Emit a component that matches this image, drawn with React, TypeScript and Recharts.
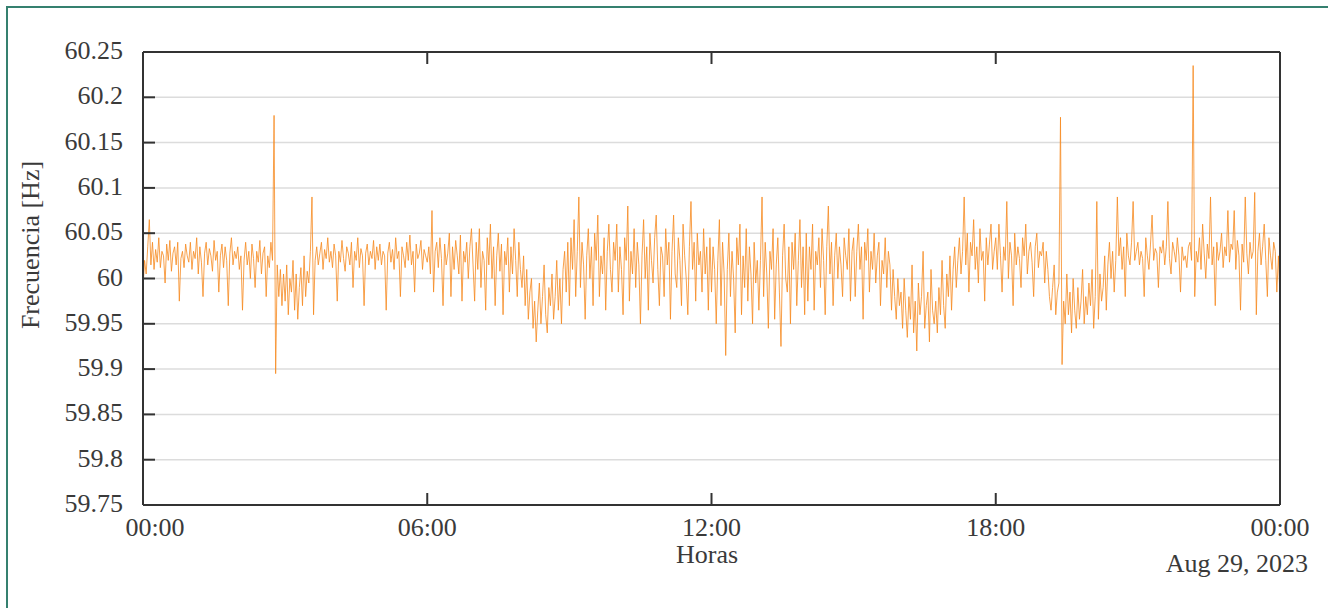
import { LineChart, Line, XAxis, YAxis, CartesianGrid } from 'recharts'

// horizontal axis: minutes since midnight, one sample every 2 min
const STEP_MIN = 2
const HOUR_TICKS = [0, 360, 720, 1080, 1440]
const HOUR_LABELS = ['00:00', '06:00', '12:00', '18:00', '00:00']
const FREQ_TICKS = [59.75, 59.8, 59.85, 59.9, 59.95, 60, 60.05, 60.1, 60.15, 60.2, 60.25]
const FREQ_LABELS = ['59.75', '59.8', '59.85', '59.9', '59.95', '60', '60.05', '60.1', '60.15', '60.2', '60.25']

// deviation from 60 Hz in mHz, one row per hour
const DEV_MHZ = [
  -10, 20, 5, 35, 65, 15, 40, 10, 32, 18, 45, 12, 30, 25, -5, 38, 20, 42, 8, 28, 35, 15, 40, -25, 22, 30, 12, 38, 25, 18,
  40, 10, 30, 22, 45, 5, 35, 18, -20, 28, 40, 15, 33, 25, 8, 42, 20, 30, -15, 25, 38, 12, 35, 20, -30, 28, 45, 15, 30, 22,
  35, 10, 25, -35, 20, 40, 15, 30, 0, 38, 22, -10, 30, 18, 42, 5, 28, 35, -20, 25, 12, 40, 20, 180, -105, 15, -20, 10, -30, 5,
  -25, 15, -40, 0, -15, 20, -35, 5, -45, -10, 12, -30, 25, -20, 8, -5, 30, 90, -40, 20, 35, 15, 28, 40, 10, 32, 22, 45, 18, 30,
  12, 38, 25, -25, 30, 18, 42, 22, 8, 35, 28, 15, 40, -10, 30, 20, 45, 12, 33, 25, -30, 28, 38, 15, 30, 22, 42, 10, 35, 20,
  38, 15, 30, 25, -35, 28, 40, 18, 32, 10, 45, 22, 30, -20, 35, 25, 12, 40, 20, 48, 15, 30, -15, 38, 22, 28, 42, 10, 32, 25,
  18, 35, 5, 75, -15, 30, 40, 12, 45, 22, -30, 38, 15, 28, 50, -20, 35, 10, 42, 25, 5, 48, -25, 30, 18, 40, 0, 35, 55, 15,
  -25, 40, 10, 55, -10, 30, 20, -35, 45, 15, 60, 0, 35, -30, 25, 50, 8, 38, -40, 30, 15, 45, -15, 35, 5, 55, 20, -20, 40, 10,
  -10, 25, -30, 10, -45, -15, 0, -55, -25, -70, -35, -5, -50, -20, 15, -40, -60, -10, -30, 5, -45, -20, 20, -35, 0, -50, 10, 30, -15, 40,
  -30, 45, 10, 65, -20, 30, 90, -10, 40, 15, -45, 25, 55, 0, 35, -30, 50, 20, 70, -20, 25, 5, 45, -35, 30, 60, 10, -15, 40, 20,
  60, -15, 35, 10, -40, 45, 20, 80, -25, 30, 5, 55, -10, 40, 15, -50, 25, 65, 0, 35, -35, 50, 20, -5, 45, 70, 10, -30, 35, 25,
  -20, 55, 15, 40, -45, 30, 70, 5, -10, 45, 20, -30, 60, 25, 0, -40, 35, 85, 10, 40, -25, 50, 15, 30, -15, 55, 5, 35, -35, 45,
  -15, 35, 10, -50, 20, 65, -30, 40, 5, -85, 10, 50, -20, 30, 0, -60, 45, 15, 60, -40, 25, -10, 55, -25, 35, 5, -50, 40, -5, 20,
  -35, 20, 90, -20, 40, 5, -55, 30, 10, 55, -45, 15, 45, -15, -75, 25, 60, 0, -15, 35, -50, 40, 10, 50, -30, 20, 65, -10, 35, -40,
  50, -25, 35, 10, 60, -35, 30, 15, 45, -10, 55, 20, -40, 35, 80, 5, 40, -30, 25, 50, 0, 35, 15, -20, 45, 25, 10, 55, -25, 30,
  45, -20, 30, 60, 10, 35, -45, 40, 20, 55, -15, 30, 10, 50, -5, 25, 40, -30, 20, 5, 45, -10, 30, 15, -35, 10, -20, -45, 0, -30,
  -15, -55, 0, -35, -65, -20, -45, 15, -60, -25, -80, -5, -40, -20, 30, -55, -30, -15, -70, 10, -35, -50, -25, -60, -10, -40, 20, -30, -55, 5,
  -20, 25, -35, 10, 35, -10, 20, 45, 5, 30, 90, 15, 50, -15, 40, 25, 65, 10, 35, -5, 55, 20, 30, -25, 45, 15, 38, 60, 10, 30,
  45, 10, 60, 25, -15, 35, 20, 85, 0, 40, 25, -30, 50, 15, 35, 22, -10, 45, 25, 60, 5, 30, 40, 18, -20, 35, 50, 12, 30, 25,
  40, -5, 30, 10, -20, -35, -10, 15, -40, -15, -5, 178, -95, -25, -50, 5, -40, -15, -60, 0, -35, -55, -10, -45, -25, 10, -50, -20, -40, -5,
  -30, 10, -55, -20, 85, -45, 5, -25, -10, 25, -35, 15, 40, 0, 30, -15, 20, 90, 25, 45, 10, 35, -20, 50, 25, 15, 40, 85, 20, 30,
  40, 15, 30, 22, -20, 45, 25, 10, 38, 70, 20, 33, 28, -10, 35, 28, 42, 15, 35, 85, 22, 5, 40, 30, 18, 45, 25, -15, 35, 20,
  25, 12, 35, 40, 20, 235, -20, 30, 18, 45, 10, 60, 28, 0, 38, 22, 90, 15, 35, -30, 40, 20, 30, 50, 12, 35, 25, 75, 18, 38,
  32, 75, 10, 42, 25, -35, 38, 18, 90, 28, 5, 40, 22, 30, 95, -40, 30, 50, 15, 35, 60, 20, -20, 45, 25, 10, 40, 30, -15, 25,
  -20,
]

const FONT = '"Liberation Serif", "Times New Roman", serif'
const TEXT = '#3a3a3a'
const FRAME = '#333333'

const data = DEV_MHZ.map((d, i) => ({ t: i * STEP_MIN, f: 60 + d / 1000 }))

function LeftTick(props: any) {
  const { x, y, index } = props
  return (
    <g>
      <line x1={x} x2={x + 12} y1={y} y2={y} stroke={FRAME} strokeWidth={2} />
      <text x={x - 20} y={y + 7} textAnchor="end" fontFamily={FONT} fontSize={26} fill={TEXT}>
        {FREQ_LABELS[index]}
      </text>
    </g>
  )
}

function RightTick(props: any) {
  const { x, y } = props
  return <line x1={x - 12} x2={x} y1={y} y2={y} stroke={FRAME} strokeWidth={2} />
}

function BottomTick(props: any) {
  const { x, y, index } = props
  return (
    <g>
      <line x1={x} x2={x} y1={y - 12} y2={y} stroke={FRAME} strokeWidth={2} />
      <text x={index === 0 ? x + 12 : x} y={y + 31} textAnchor="middle" fontFamily={FONT} fontSize={26} fill={TEXT}>
        {HOUR_LABELS[index]}
      </text>
    </g>
  )
}

function TopTick(props: any) {
  const { x, y } = props
  return <line x1={x} x2={x} y1={y} y2={y + 12} stroke={FRAME} strokeWidth={2} />
}

export default function App() {
  return (
    <div style={{ position: 'absolute', left: 0, top: 0, width: 1328, height: 608, background: '#fff' }}>
      <div
        style={{
          position: 'absolute',
          left: 6,
          top: 6,
          right: 0,
          bottom: 0,
          borderLeft: '2px solid #35806f',
          borderTop: '2px solid #35806f',
        }}
      />
      <LineChart
        width={1328}
        height={608}
        data={data}
        margin={{ top: 42, right: 38, bottom: 43, left: 43 }}
        style={{ position: 'absolute', left: 0, top: 0 }}
      >
        <CartesianGrid vertical={false} stroke="#dcdcdc" strokeWidth={1.5} />
        <XAxis
          dataKey="t"
          type="number"
          domain={[0, 1440]}
          ticks={HOUR_TICKS}
          interval={0}
          height={60}
          axisLine={{ stroke: FRAME, strokeWidth: 2 }}
          tickLine={false}
          tickSize={0}
          tickMargin={0}
          tick={(p: any) => <BottomTick {...p} />}
          label={{
            content: () => (
              <g fontFamily={FONT} fontSize={26} fill={TEXT}>
                <text x={707} y={563} textAnchor="middle">Horas</text>
                <text x={1308} y={572} textAnchor="end">Aug 29, 2023</text>
              </g>
            ),
          }}
        />
        <XAxis
          xAxisId="top"
          orientation="top"
          dataKey="t"
          type="number"
          domain={[0, 1440]}
          ticks={HOUR_TICKS}
          interval={0}
          height={10}
          axisLine={{ stroke: FRAME, strokeWidth: 2 }}
          tickLine={false}
          tickSize={0}
          tickMargin={0}
          tick={(p: any) => <TopTick {...p} />}
        />
        <YAxis
          type="number"
          domain={[59.75, 60.25]}
          ticks={FREQ_TICKS}
          interval={0}
          width={100}
          allowDataOverflow
          axisLine={{ stroke: FRAME, strokeWidth: 2 }}
          tickLine={false}
          tickSize={0}
          tickMargin={0}
          tick={(p: any) => <LeftTick {...p} />}
          label={{
            content: () => (
              <text
                x={39}
                y={245}
                transform="rotate(-90, 39, 245)"
                textAnchor="middle"
                fontFamily={FONT}
                fontSize={26}
                fill={TEXT}
              >
                Frecuencia [Hz]
              </text>
            ),
          }}
        />
        <YAxis
          yAxisId="r"
          orientation="right"
          type="number"
          domain={[59.75, 60.25]}
          ticks={FREQ_TICKS}
          interval={0}
          width={10}
          axisLine={{ stroke: FRAME, strokeWidth: 2 }}
          tickLine={false}
          tickSize={0}
          tickMargin={0}
          tick={(p: any) => <RightTick {...p} />}
        />
        <Line
          type="linear"
          dataKey="f"
          stroke="#f68a1f"
          strokeOpacity={0.8}
          strokeWidth={1}
          dot={false}
          isAnimationActive={false}
        />
      </LineChart>
    </div>
  )
}
